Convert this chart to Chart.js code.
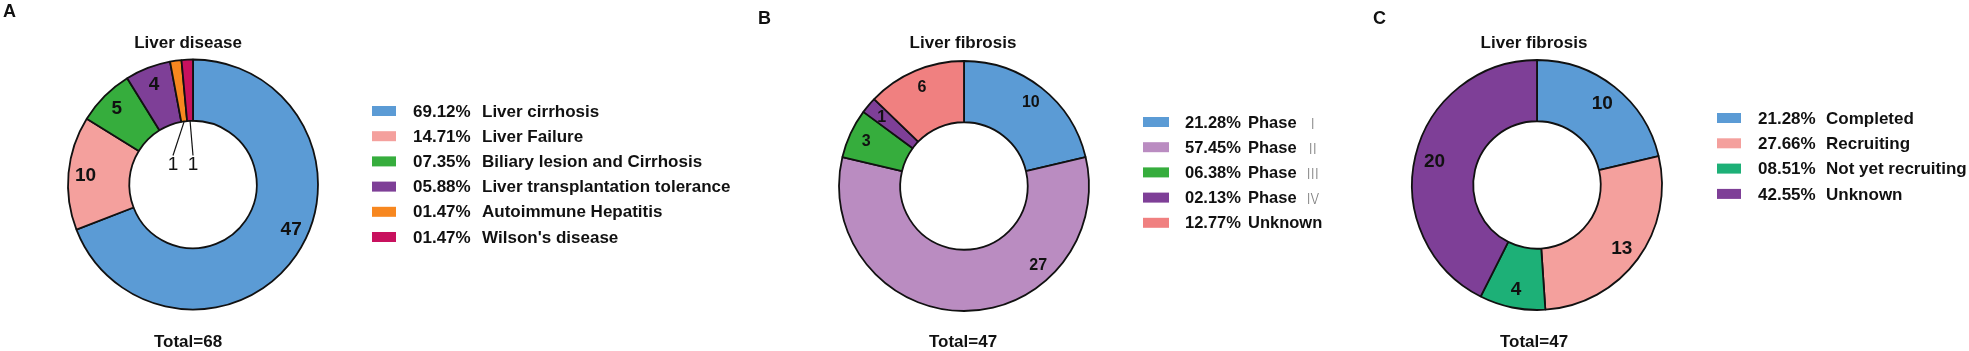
<!DOCTYPE html>
<html>
<head>
<meta charset="utf-8">
<script src="https://cdn.jsdelivr.net/npm/chart.js@4.4.1/dist/chart.umd.min.js"></script>
<style>
  html, body { margin: 0; padding: 0; background: #fff; }
  body { width: 1969px; height: 351px; position: relative; overflow: hidden; }
  canvas { position: absolute; top: 0; }
</style>
</head>
<body>
<canvas id="cA" width="760" height="351" style="left:0px"></canvas>
<canvas id="cB" width="710" height="351" style="left:650px"></canvas>
<canvas id="cC" width="609" height="351" style="left:1360px"></canvas>
<script>
// ---------- DATA ----------
const catsA = ['Liver cirrhosis', 'Liver Failure', 'Biliary lesion and Cirrhosis', 'Liver transplantation tolerance', 'Autoimmune Hepatitis', "Wilson's disease"];
const valsA = [47, 10, 5, 4, 1, 1];
const pctA  = ['69.12%', '14.71%', '07.35%', '05.88%', '01.47%', '01.47%'];

const catsB = ['Phase \u2160', 'Phase \u2161', 'Phase \u2162', 'Phase \u2163', 'Unknown'];
const valsB = [10, 27, 3, 1, 6];
const pctB  = ['21.28%', '57.45%', '06.38%', '02.13%', '12.77%'];

const catsC = ['Completed', 'Recruiting', 'Not yet recruiting', 'Unknown'];
const valsC = [10, 13, 4, 20];
const pctC  = ['21.28%', '27.66%', '08.51%', '42.55%'];

const titles = ['Liver disease', 'Liver fibrosis', 'Liver fibrosis'];
const totals = ['Total=68', 'Total=47', 'Total=47'];
const letters = ['A', 'B', 'C'];

// ---------- STYLE ----------
const colorsA = ['#5B9BD5', '#F4A09D', '#36AD3D', '#7E3F97', '#F7871F', '#C8115E'];
const colorsB = ['#5B9BD5', '#BA8CC1', '#36AD3D', '#7E3F97', '#F08080'];
const colorsC = ['#5B9BD5', '#F4A09D', '#1DB077', '#7E3F97'];

const FONT = '"Liberation Sans", Arial, Helvetica, sans-serif';
const H = 351, R = 125;

function isRoman(ch) { const c = ch.charCodeAt(0); return c >= 0x2160 && c <= 0x216F; }

function drawRich(ctx, text, x, y, font, romanFont) {
  let cx = x;
  for (const ch of text) {
    if (isRoman(ch)) {
      ctx.font = romanFont; ctx.fillStyle = '#808080';
      cx += 4;
      ctx.fillText(ch, cx, y);
      cx += ctx.measureText(ch).width;
    } else {
      ctx.font = font; ctx.fillStyle = '#111';
      ctx.fillText(ch, cx, y);
      cx += ctx.measureText(ch).width;
    }
  }
}

const panelText = {
  id: 'panelText',
  afterDatasetsDraw(chart, args, o) {
    const ctx = chart.ctx;
    const L = o.left;
    ctx.save();
    const meta = chart.getDatasetMeta(0);
    const data = chart.data.datasets[0].data;
    meta.data.forEach((arc, i) => {
      const p = arc.getProps(['x', 'y', 'startAngle', 'endAngle', 'innerRadius', 'outerRadius'], true);
      const co = o.callouts && o.callouts[i];
      ctx.fillStyle = '#111';
      ctx.textAlign = 'center';
      ctx.textBaseline = 'middle';
      if (co) {
        const mid = (p.startAngle + p.endAngle) / 2;
        const x0 = p.x + Math.cos(mid) * p.innerRadius;
        const y0 = p.y + Math.sin(mid) * p.innerRadius;
        const x1 = p.x + co.dx, y1 = p.y + co.dy;
        ctx.strokeStyle = '#111'; ctx.lineWidth = 1.2;
        ctx.beginPath(); ctx.moveTo(x0, y0); ctx.lineTo(x1, y1); ctx.stroke();
        ctx.font = o.calloutFont;
        ctx.fillText(String(data[i]), x1, y1 + 9);
      } else {
        const frac = (o.labelFrac && o.labelFrac[i] != null) ? o.labelFrac[i] : 0.5;
        const a = p.startAngle + frac * (p.endAngle - p.startAngle);
        const r = p.innerRadius + o.labelRadius * (p.outerRadius - p.innerRadius);
        ctx.font = o.labelFont;
        ctx.fillText(String(data[i]), p.x + Math.cos(a) * r, p.y + Math.sin(a) * r + 1);
      }
    });
    // title, total, letter
    ctx.fillStyle = '#111';
    ctx.textAlign = 'center';
    ctx.textBaseline = 'middle';
    ctx.font = 'bold 17px ' + FONT;
    ctx.fillText(o.title, o.titleX - L, 43);
    ctx.fillText(o.total, o.titleX - L, 342);
    ctx.textAlign = 'left';
    ctx.font = 'bold 18px ' + FONT;
    ctx.fillText(o.letter, o.letterX - L, o.letterY);
    // legend
    const lg = o.legend;
    const labels = chart.data.labels;
    const cols = chart.data.datasets[0].backgroundColor;
    labels.forEach((lab, i) => {
      const y = lg.y + i * lg.step;
      ctx.fillStyle = cols[i];
      ctx.fillRect(lg.x - L, y - 5, lg.sw, 10);
      ctx.textBaseline = 'middle';
      ctx.textAlign = 'left';
      ctx.font = lg.font; ctx.fillStyle = '#111';
      ctx.fillText(o.pcts[i], lg.tx - L, y + 1);
      drawRich(ctx, lab, lg.nx - L, y + 1, lg.font, '300 15px "Noto Sans CJK SC", serif');
    });
    ctx.restore();
  }
};

function makeChart(id, left, width, cx, cy, cats, vals, cols, opts) {
  const b = 0.9;
  const pad = {
    left: cx - R - b - left,
    right: width - (cx + R + b - left),
    top: cy - R - b,
    bottom: H - (cy + R + b)
  };
  return new Chart(document.getElementById(id), {
    type: 'doughnut',
    data: {
      labels: cats,
      datasets: [{
        data: vals,
        backgroundColor: cols,
        borderColor: '#111',
        borderWidth: 1.8,
        hoverOffset: 0,
        offset: 0
      }]
    },
    options: {
      responsive: false,
      animation: false,
      devicePixelRatio: 1,
      events: [],
      cutout: '51%',
      layout: { padding: pad },
      plugins: {
        legend: { display: false },
        tooltip: { enabled: false },
        title: { display: false },
        panelText: Object.assign({ left: left }, opts)
      }
    },
    plugins: [panelText]
  });
}

makeChart('cA', 0, 760, 193, 184.5, catsA, valsA, colorsA, {
  title: titles[0], total: totals[0], letter: letters[0],
  titleX: 188, letterX: 3, letterY: 12,
  pcts: pctA,
  labelRadius: 0.72, labelFrac: { 0: 0.46 },
  labelFont: 'bold 19px ' + FONT,
  calloutFont: '19px ' + FONT,
  callouts: { 4: { dx: -20, dy: -29 }, 5: { dx: 0, dy: -29 } },
  legend: { x: 372, sw: 24, y: 111, step: 25.2, tx: 413, nx: 482, font: 'bold 17px ' + FONT }
});

makeChart('cB', 650, 710, 964, 186, catsB, valsB, colorsB, {
  title: titles[1], total: totals[1], letter: letters[1],
  titleX: 963, letterX: 758, letterY: 19,
  pcts: pctB,
  labelRadius: 0.72, labelFrac: { 1: 0.29 },
  labelFont: 'bold 16px ' + FONT,
  legend: { x: 1143, sw: 26, y: 122, step: 25.2, tx: 1185, nx: 1248, font: 'bold 16.5px ' + FONT }
});

makeChart('cC', 1360, 609, 1537, 185, catsC, valsC, colorsC, {
  title: titles[2], total: totals[2], letter: letters[2],
  titleX: 1534, letterX: 1373, letterY: 19,
  pcts: pctC,
  labelRadius: 0.68,
  labelFont: 'bold 19px ' + FONT,
  legend: { x: 1717, sw: 24, y: 118, step: 25.3, tx: 1758, nx: 1826, font: 'bold 17px ' + FONT }
});
</script>
</body>
</html>
